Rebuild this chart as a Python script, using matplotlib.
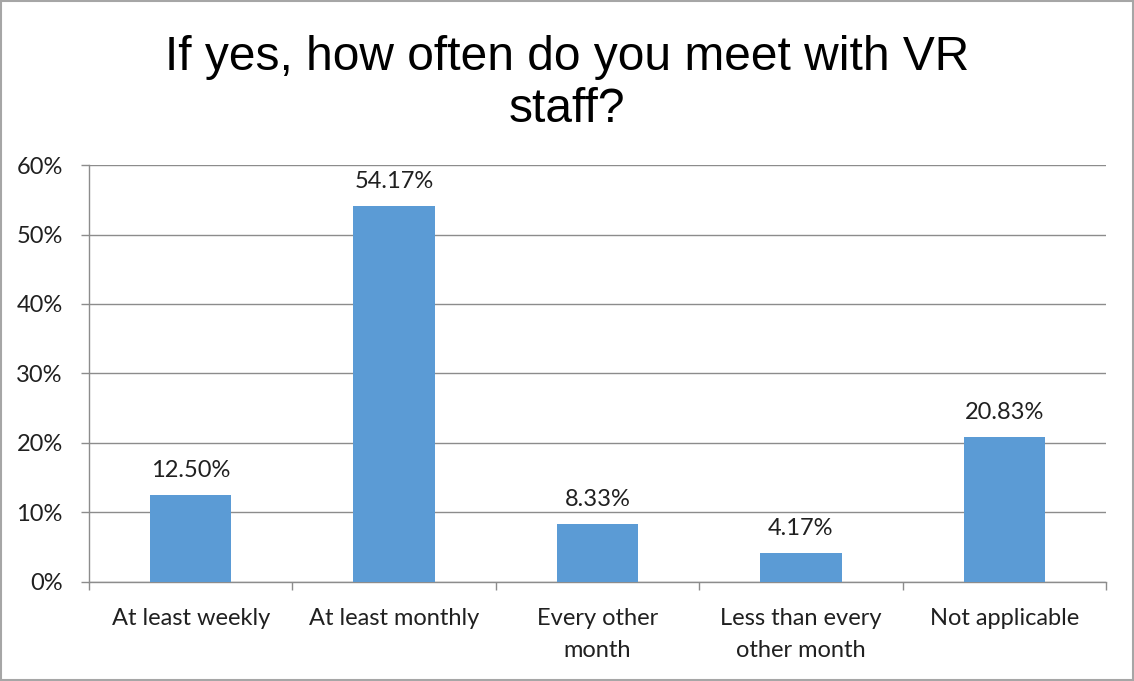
import numpy as np
import matplotlib.pyplot as plt
from matplotlib.ticker import FixedLocator, PercentFormatter
from matplotlib.patches import Rectangle

# chart data
categories = ['At least weekly', 'At least monthly', 'Every other\nmonth',
              'Less than every\nother month', 'Not applicable']
values = [12.50, 54.17, 8.33, 4.17, 20.83]
title = 'If yes, how often do you meet with VR\nstaff?'

bar_color = '#5B9BD5'
grid_color = '#8C8C8C'
label_font = ['Lato', 'DejaVu Sans']
label_size = 17

fig = plt.figure(figsize=(11.34, 6.81), dpi=100)
ax = fig.add_axes([0.0785, 0.1454, 0.8968, 0.6123])

x = np.arange(len(categories))
ax.bar(x, values, width=0.4, color=bar_color, zorder=3)

for xi, v in zip(x, values):
    ax.annotate('{:.2f}%'.format(v), (xi, v), xytext=(0, 10),
                textcoords='offset points', ha='center', va='bottom',
                fontsize=label_size, family=label_font, color='#202020')

ax.set_xlim(-0.5, len(categories) - 0.5)
ax.set_ylim(0, 60)
ax.set_yticks(np.arange(0, 61, 10))
ax.yaxis.set_major_formatter(PercentFormatter(decimals=0))
ax.set_xticks(x)
ax.set_xticklabels(categories, fontsize=label_size, family=label_font, color='#202020',
                   linespacing=1.6)
ax.xaxis.set_minor_locator(FixedLocator(np.arange(-0.5, len(categories), 1.0)))
ax.tick_params(axis='x', which='major', length=0, pad=19)
ax.tick_params(axis='x', which='minor', length=6, color=grid_color, width=1)
ax.tick_params(axis='y', length=6, color=grid_color, width=1, pad=13,
               labelsize=label_size, labelcolor='#202020')
for lab in ax.get_yticklabels():
    lab.set_family(label_font)

ax.grid(axis='y', color=grid_color, linewidth=1, zorder=0)
for side in ['top', 'right']:
    ax.spines[side].set_visible(False)
for side in ['left', 'bottom']:
    ax.spines[side].set_color(grid_color)
    ax.spines[side].set_linewidth(1)

fig.text(0.5, 0.948, title, ha='center', va='top', fontsize=34.5,
         family='Liberation Sans', linespacing=1.2, color='#000000')

# outer chart border
fig.patches.append(Rectangle((0.001, 0.001), 0.998, 0.998, transform=fig.transFigure,
                             fill=False, edgecolor='#A6A6A6', linewidth=1.5))

fig.savefig('out.png', dpi=100)
